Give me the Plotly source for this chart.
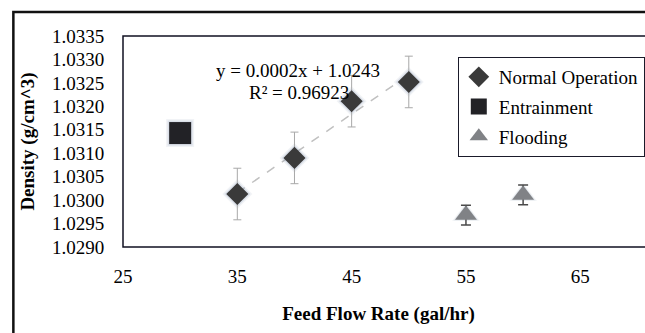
import numpy as np
import plotly.graph_objects as go

# ---- data ----
normal_x = [35, 40, 45, 50]
normal_y = [1.03013, 1.03090, 1.03211, 1.03252]
normal_err = [0.00055, 0.00055, 0.00055, 0.00055]

entrain_x = [30]
entrain_y = [1.03143]

flood_x = [55, 60]
flood_y = [1.02968, 1.03011]
flood_err = [0.00021, 0.00021]

x_ticks = [25, 35, 45, 55, 65]
y_ticks = [1.0290, 1.0295, 1.0300, 1.0305, 1.0310, 1.0315, 1.0320, 1.0325, 1.0330, 1.0335]

eq_text = "y = 0.0002x + 1.0243"
r2_text = "R² = 0.96923"

FONT = "Liberation Serif, Times New Roman, serif"

# linear trendline for Normal Operation
coef = np.polyfit(normal_x, normal_y, 1)
trend_x = [min(normal_x), max(normal_x)]
trend_y = [coef[0] * v + coef[1] for v in trend_x]

fig = go.Figure()

# trendline
fig.add_trace(go.Scatter(x=trend_x, y=trend_y, mode="lines",
                         line=dict(color="#c0c0c0", width=1.5, dash="dash"),
                         showlegend=False, hoverinfo="skip"))

# soft glow halos
for d_sz, s_sz, t_sz, op in ((23, 28, 24, 0.12), (20, 25, 21, 0.22)):
    fig.add_trace(go.Scatter(x=normal_x, y=normal_y, mode="markers",
                             marker=dict(symbol="diamond", size=d_sz, color=f"rgba(140,160,185,{op})",
                                         line=dict(width=0)),
                             showlegend=False, hoverinfo="skip"))
    fig.add_trace(go.Scatter(x=entrain_x, y=entrain_y, mode="markers",
                             marker=dict(symbol="square", size=s_sz, color=f"rgba(140,160,185,{op})",
                                         line=dict(width=0)),
                             showlegend=False, hoverinfo="skip"))
    fig.add_trace(go.Scatter(x=flood_x, y=flood_y, mode="markers",
                             marker=dict(symbol="triangle-up", size=t_sz, color=f"rgba(160,175,190,{op})",
                                         line=dict(width=0)),
                             showlegend=False, hoverinfo="skip"))

# main series
fig.add_trace(go.Scatter(x=normal_x, y=normal_y, mode="markers", name="Normal Operation",
                         legendgroup="a",
                         error_y=dict(type="data", array=normal_err, visible=True,
                                      color="#a8a8a8", thickness=1, width=4),
                         marker=dict(symbol="diamond", size=17, color="#3a3a3a",
                                     line=dict(width=0))))
fig.add_trace(go.Scatter(x=entrain_x, y=entrain_y, mode="markers", name="Entrainment",
                         legendgroup="b",
                         marker=dict(symbol="square", size=22, color="#222226",
                                     line=dict(width=0))))
fig.add_trace(go.Scatter(x=flood_x, y=flood_y, mode="markers", name="Flooding",
                         legendgroup="c",
                         error_y=dict(type="data", array=flood_err, visible=True,
                                      color="#4a4a4a", thickness=1.5, width=5),
                         marker=dict(symbol="triangle-up", size=19, color="#808286",
                                     line=dict(width=0))))

W, H = 645, 333
L, R, T, B = 123, 0, 36, 86
pw, ph = W - L - R, H - T - B

def px_x(p):
    return (p - L) / pw

def px_y(p):
    return 1 - (p - T) / ph

fig.update_layout(
    width=W, height=H,
    margin=dict(l=L, r=R, t=T, b=B, pad=0),
    paper_bgcolor="white", plot_bgcolor="white",
    font=dict(family=FONT, size=19, color="black"),
    showlegend=True,
    legend=dict(x=px_x(465), y=px_y(57), xanchor="left", yanchor="top",
                bgcolor="white", bordercolor="#1a1a2a", borderwidth=1,
                font=dict(family=FONT, size=19, color="black"),
                tracegroupgap=2, itemwidth=30),
    xaxis=dict(range=[25, 69.7], tickvals=x_ticks, showgrid=False, zeroline=False,
               showline=False, ticks="outside", ticklen=12, tickcolor="rgba(0,0,0,0)",
               tickfont=dict(family=FONT, size=19),
               title=dict(text="<b>Feed Flow Rate (gal/hr)</b>",
                          font=dict(family=FONT, size=19), standoff=20)),
    yaxis=dict(range=[1.029, 1.0335], tickvals=y_ticks, tickformat=".4f",
               showgrid=False, zeroline=False, showline=False,
               ticks="outside", ticklen=14, tickcolor="rgba(0,0,0,0)",
               tickfont=dict(family=FONT, size=19),
               title=dict(text="<b>Density (g/cm^3)</b>",
                          font=dict(family=FONT, size=19), standoff=12)),
    shapes=[
        dict(type="rect", xref="paper", yref="paper", x0=0, x1=1.2, y0=0, y1=1,
             line=dict(color="#111122", width=1.5), layer="above"),
        dict(type="rect", xref="paper", yref="paper",
             x0=px_x(11), x1=1.2, y0=-0.6, y1=px_y(12),
             line=dict(color="#111111", width=2.5), layer="above"),
    ],
    annotations=[
        dict(text=eq_text, xref="paper", yref="paper", x=px_x(302), y=px_y(58),
             showarrow=False, font=dict(family=FONT, size=19)),
        dict(text=r2_text, xref="paper", yref="paper", x=px_x(303), y=px_y(80),
             showarrow=False, font=dict(family=FONT, size=19)),
    ],
)

fig.write_html("out.html")
